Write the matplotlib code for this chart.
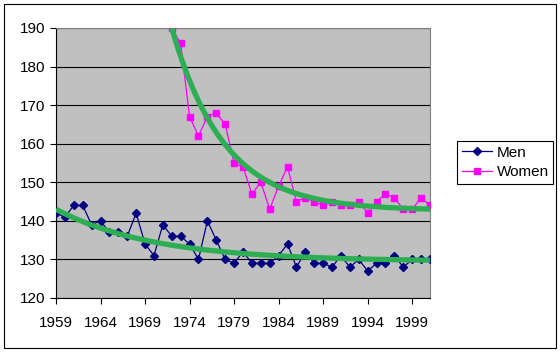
import numpy as np
import matplotlib
matplotlib.use("Agg")
import matplotlib.pyplot as plt
from matplotlib.patches import Rectangle

# values
years_men = list(range(1959, 2002))
men = [142, 141, 144, 144, 139, 140, 137, 137, 136, 142,
       134, 131, 139, 136, 136, 134, 130, 140, 135, 130,
       129, 132, 129, 129, 129, 131, 134, 128, 132, 129,
       129, 128, 131, 128, 130, 127, 129, 129, 131, 128,
       130, 130, 130]
years_women = list(range(1972, 2002))
women = [190, 186, 167, 162, 167, 168, 165, 155, 154, 147,
         150, 143, 149, 154, 145, 146, 145, 144, 145, 144,
         144, 145, 142, 145, 147, 146, 143, 143, 146, 144]

# trend curves (start value, floor, decay per year)
trend_men = (143.0, 129.5, 0.09)
trend_women = (190.0, 142.7, 0.17)

x_ticks = list(range(1959, 2000, 5))
y_ticks = list(range(120, 191, 10))


def decay_curve(x, params):
    start, floor, rate = params
    xs = np.linspace(x[0], x[-1], 300)
    return xs, floor + (start - floor) * np.exp(-rate * (xs - x[0]))


plt.rcParams["font.family"] = ["Liberation Sans", "DejaVu Sans"]

fig = plt.figure(figsize=(5.6, 3.52), dpi=100)
fig.patches.append(Rectangle((4 / 560, 4 / 352), 552 / 560, 344 / 352,
                             transform=fig.transFigure, fill=False,
                             edgecolor="black", linewidth=0.8))
ax = fig.add_axes([56 / 560, 1 - 298 / 352, 374 / 560, 270 / 352])
ax.set_facecolor("#C0C0C0")

ax.plot(years_men, men, color="#000080", marker="D", markersize=4.5,
        linewidth=0.9, label="Men", zorder=3)
ax.plot(years_women, women, color="#FF00FF", marker="s", markersize=4.5,
        linewidth=0.9, label="Women", zorder=3)

for xx, params in [(years_men, trend_men), (years_women, trend_women)]:
    tx, ty = decay_curve(xx, params)
    ax.plot(tx, ty, color="#2EAE52", linewidth=3.8, solid_capstyle="butt",
            zorder=4)

ax.set_xlim(1959, 2001)
ax.set_ylim(120, 190)
ax.set_xticks(x_ticks)
ax.set_yticks(y_ticks)
ax.yaxis.grid(True, color="black", linewidth=0.8)
ax.set_axisbelow(True)
ax.tick_params(labelsize=11, direction="out", length=4, width=0.8,
               color="black")
ax.tick_params(axis="x", pad=9)
for side in ["top", "right"]:
    ax.spines[side].set_color("#808080")
for side in ["left", "bottom"]:
    ax.spines[side].set_color("black")
    ax.spines[side].set_linewidth(0.8)

leg = ax.legend(loc="upper left", bbox_to_anchor=(457 / 560, 1 - 141 / 352),
                bbox_transform=fig.transFigure, fontsize=11, frameon=True,
                fancybox=False, framealpha=1, edgecolor="black",
                borderpad=0.3, handlelength=2.0, handletextpad=0.3,
                labelspacing=0.35, borderaxespad=0)
leg.get_frame().set_linewidth(0.8)

fig.savefig("out.png", dpi=100)
